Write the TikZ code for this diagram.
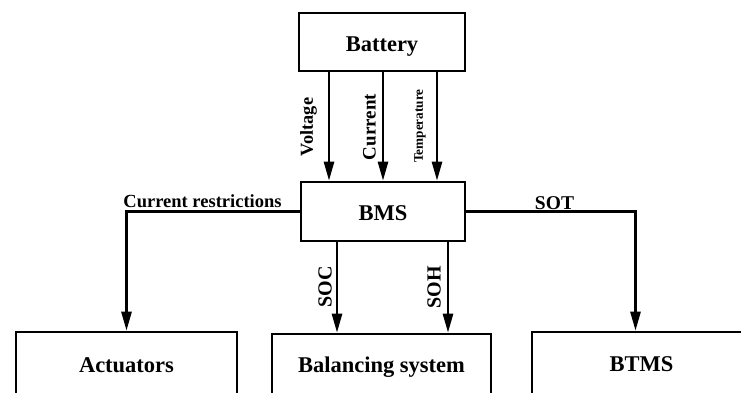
\documentclass[tikz,border=0pt]{standalone}
\usepackage{fontspec}
\setmainfont{Liberation Serif}
\usetikzlibrary{arrows.meta}
\begin{document}
\begin{tikzpicture}[x=1pt,y=-1pt,
  box/.style={draw, line width=2.6pt, inner sep=0pt},
  btxt/.style={inner sep=0pt, anchor=base, font=\fontsize{22.5}{24}\selectfont\bfseries},
  arr/.style={line width=2.6pt, -{Triangle[length=19pt,width=10pt]}},
  lbl/.style={inner sep=0pt, font=\fontsize{19}{20}\selectfont\bfseries},
  vlbl/.style={lbl, rotate=90}]
\clip (0,0) rectangle (741,392);
\fill[white] (0,0) rectangle (741,392);
\node[box, minimum width=166pt, minimum height=58pt] (bat) at (382,42) {};
\node[btxt] (battxt) at (382,51) {Battery};
\node[box, minimum width=164pt, minimum height=59pt] (bms) at (383,211.5) {};
\node[btxt] (bmstxt) at (383,220) {BMS};
\node[box, minimum width=221pt, minimum height=64pt] (act) at (126.5,364) {};
\node[btxt] (acttxt) at (126.5,372) {Actuators};
\node[box, minimum width=219pt, minimum height=64pt] (bal) at (381.5,366) {};
\node[btxt] (baltxt) at (381.5,372) {Balancing system};
\node[box, minimum width=219pt, minimum height=64pt] (btms) at (641.5,364) {};
\node[btxt] (btmstxt) at (641.5,371) {BTMS};
% battery to BMS
\draw[arr] ([xshift=-53pt]bat.south) -- ([xshift=-53pt]bat.south |- bms.north);
\draw[arr] ([xshift=1pt]bat.south) -- ([xshift=1pt]bat.south |- bms.north);
\draw[arr] ([xshift=55pt]bat.south) -- ([xshift=55pt]bat.south |- bms.north);
\node[vlbl, font=\fontsize{18.3}{20}\selectfont\bfseries] (lv) at (308.5,127) {Voltage};
\node[vlbl] (lc) at (369.5,127) {Current};
\node[vlbl, font=\fontsize{13.2}{14}\selectfont\bfseries] (lt) at (420,126) {Temperature};
% BMS outputs
\draw[arr] (bms.west) -| (act.north);
\node[lbl, font=\fontsize{18.5}{20}\selectfont\bfseries, anchor=base] (lcr) at (202.5,207) {Current restrictions};
\draw[arr] (bms.east) -| ([xshift=-6pt]btms.north);
\node[lbl, font=\fontsize{19.5}{20}\selectfont\bfseries, anchor=base] (lsot) at (554.5,209) {SOT};
\draw[arr] ([xshift=-46pt]bms.south) -- ([xshift=-46pt]bms.south |- bal.north);
\draw[arr] ([xshift=65pt]bms.south) -- ([xshift=65pt]bms.south |- bal.north);
\node[vlbl, font=\fontsize{20}{20}\selectfont\bfseries] (lsoc) at (325,287) {SOC};
\node[vlbl, font=\fontsize{20}{20}\selectfont\bfseries] (lsoh) at (434,287.5) {SOH};
\end{tikzpicture}
\end{document}
